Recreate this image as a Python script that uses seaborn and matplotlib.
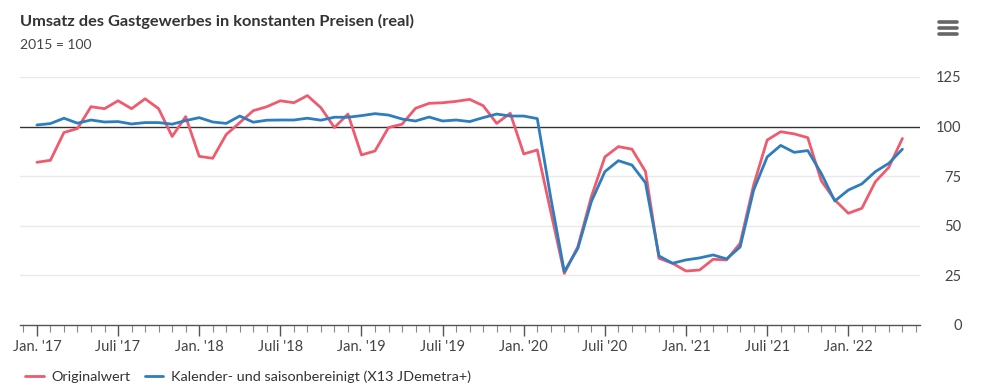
import numpy as np
import pandas as pd
import matplotlib
matplotlib.use("Agg")
import matplotlib.pyplot as plt
import seaborn as sns
from matplotlib.lines import Line2D
from matplotlib.ticker import FixedLocator, MultipleLocator

sns.set_theme(style="white")
plt.rcParams['font.family'] = ['Lato', 'DejaVu Sans']

# Monthly data Jan 2017 .. May 2022
months = pd.date_range("2017-01-01", "2022-05-01", freq="MS")
original = [82, 83, 97, 99, 110, 109, 113, 109, 114, 109, 95, 105,
            85, 84, 96, 102, 108, 110, 113, 112, 115.6, 109.5, 99.5, 106.3,
            85.7, 87.7, 99.5, 101.2, 109.2, 111.7, 112, 112.7, 113.7, 110.5, 101.6, 106.7,
            86.2, 88.2, 57, 26, 39.5, 64.7, 84.7, 89.9, 88.6, 77.4, 33.6, 31.1,
            27.2, 27.7, 33.1, 32.8, 41.2, 70.6, 93.2, 97.4, 96.3, 94.4, 72.7, 63,
            56.3, 58.8, 72.2, 79.5, 94]
adjusted = [100.8, 101.5, 104.2, 101.7, 103.3, 102.3, 102.5, 101.3, 102, 102, 101.2, 103,
            104.5, 102.3, 101.6, 105.3, 102.2, 103.2, 103.3, 103.3, 104.2, 103.2, 104.7, 104.7,
            105.5, 106.5, 105.8, 103.8, 102.8, 104.8, 102.8, 103.3, 102.5, 104.5, 106.3, 105.3,
            105.3, 104, 64, 26.9, 38.6, 62.2, 77.3, 82.8, 80.6, 71.7, 34.8, 31.1,
            32.8, 33.8, 35.3, 33.3, 39.3, 68, 84.7, 90.5, 87, 87.9, 76.4, 62.5,
            68, 71.1, 77.3, 81.5, 88.6]
series_names = ["Originalwert", "Kalender- und saisonbereinigt (X13 JDemetra+)"]
tick_labels = ["Jan. '17", "Juli '17", "Jan. '18", "Juli '18", "Jan. '19", "Juli '19",
               "Jan. '20", "Juli '20", "Jan. '21", "Juli '21", "Jan. '22"]
y_ticks = [0, 25, 50, 75, 100, 125]

colors = ["#ef5b6e", "#2e7dbd"]

df = pd.DataFrame({
    "idx": np.tile(np.arange(len(months)), 2),
    "value": original + adjusted,
    "series": [series_names[0]] * len(months) + [series_names[1]] * len(months),
})

fig = plt.figure(figsize=(10, 3.9), dpi=100)
ax = fig.add_axes([0.02, 0.1667, 0.90, 0.636])

sns.lineplot(data=df, x="idx", y="value", hue="series", palette=colors,
             linewidth=2.0, ax=ax, legend=False)

ax.set_xlim(-1.25, 65.3)
ax.set_ylim(0, 125)
ax.set_xlabel("")
ax.set_ylabel("")

# grid
for v in y_ticks[1:]:
    if v == 100:
        ax.axhline(v, color="#333333", lw=1.0, zorder=1)
    else:
        ax.axhline(v, color="#e9e9e9", lw=1.0, zorder=0)

for s in ["top", "left", "right"]:
    ax.spines[s].set_visible(False)
ax.spines["bottom"].set_color("#555555")
ax.spines["bottom"].set_linewidth(1.0)

ax.yaxis.tick_right()
ax.set_yticks(y_ticks)
ax.set_yticklabels([str(v) for v in y_ticks])
ax.tick_params(axis="y", length=0, pad=30, labelsize=10.5, labelcolor="#444444")
for lab in ax.yaxis.get_ticklabels(which="major"):
    lab.set_horizontalalignment("right")

major = list(range(0, 61, 6))
ax.xaxis.set_major_locator(FixedLocator(major))
ax.set_xticklabels(tick_labels)
ax.xaxis.set_minor_locator(MultipleLocator(1))
ax.tick_params(axis="x", which="major", direction="out", length=8, width=1,
               color="#555555", labelsize=10.5, labelcolor="#444444", pad=3, bottom=True)
ax.tick_params(axis="x", which="minor", direction="out", length=5, width=0.8,
               color="#888888", bottom=True)

fig.text(0.02, 0.945, "Umsatz des Gastgewerbes in konstanten Preisen (real)",
         fontsize=11.8, fontweight="bold", color="#333333", va="center")
fig.text(0.02, 0.885, "2015 = 100", fontsize=10, color="#444444", va="center")

# menu icon
for yy in [0.944, 0.928, 0.913]:
    fig.add_artist(Line2D([0.939, 0.957], [yy, yy], color="#666666", lw=2.6,
                          transform=fig.transFigure))

handles = [Line2D([0], [0], color=c, lw=2) for c in colors]
fig.legend(handles, series_names, loc="center left", bbox_to_anchor=(0.012, 0.035),
           ncol=2, frameon=False, fontsize=10.4, handlelength=1.3, handletextpad=0.5,
           columnspacing=1.0, labelcolor="#333333")

fig.savefig("out.png", dpi=100, facecolor="white")
